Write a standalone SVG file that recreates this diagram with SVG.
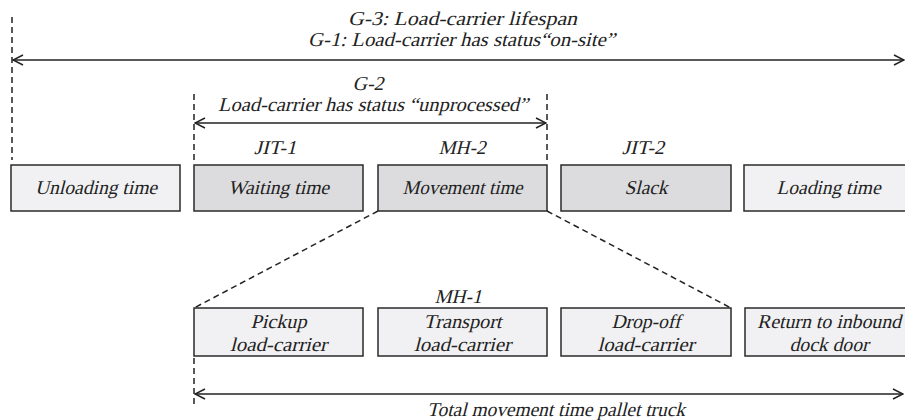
<svg xmlns="http://www.w3.org/2000/svg" width="905" height="420" viewBox="0 0 905 420">
  <defs>
    <!-- Serif labels are slanted with a skew so they read as italic -->
    <style>
      .t { font-family: 'Liberation Serif', serif; font-size: 19.6px; fill: #222; text-anchor: middle; }
      .box { stroke: #2a2a2a; stroke-width: 1.5; }
      .light { fill: #f1f1f3; }
      .gray { fill: #dcdcde; }
      .dash { stroke: #222; stroke-width: 1.5; stroke-dasharray: 6 4; fill: none; }
      .span { stroke: #222; stroke-width: 1.6; fill: none; marker-start: url(#head); marker-end: url(#head); }
    </style>
    <marker id="head" viewBox="0 0 12 12" refX="11" refY="6" markerWidth="12" markerHeight="12" markerUnits="userSpaceOnUse" orient="auto-start-reverse">
      <path d="M1,1 L11,6 L1,11" fill="none" stroke="#222" stroke-width="1.5"/>
    </marker>
  </defs>
  <rect width="905" height="420" fill="#ffffff"/>

  <!-- Span labels -->
  <g id="labels" class="t">
    <text transform="translate(462.5,25) skewX(-14)" textLength="229" lengthAdjust="spacingAndGlyphs">G-3: Load-carrier lifespan</text>
    <text transform="translate(461.5,46) skewX(-14)" textLength="307" lengthAdjust="spacingAndGlyphs">G-1: Load-carrier has status“on-site”</text>
    <text transform="translate(368,90) skewX(-14)" textLength="31" lengthAdjust="spacingAndGlyphs">G-2</text>
    <text transform="translate(373,111) skewX(-14)" textLength="310" lengthAdjust="spacingAndGlyphs">Load-carrier has status “unprocessed”</text>
    <text transform="translate(275,154) skewX(-14)" textLength="42" lengthAdjust="spacingAndGlyphs">JIT-1</text>
    <text transform="translate(462,154) skewX(-14)" textLength="47" lengthAdjust="spacingAndGlyphs">MH-2</text>
    <text transform="translate(643,154) skewX(-14)" textLength="42" lengthAdjust="spacingAndGlyphs">JIT-2</text>
    <text transform="translate(458,303) skewX(-14)" textLength="47" lengthAdjust="spacingAndGlyphs">MH-1</text>
    <text transform="translate(556,416) skewX(-14)" textLength="258" lengthAdjust="spacingAndGlyphs">Total movement time pallet truck</text>
  </g>

  <!-- Top row: load-carrier stages -->
  <g id="unloading" class="t">
    <rect class="box light" x="11" y="165" width="169" height="46"/>
    <text transform="translate(96,194) skewX(-14)" textLength="122" lengthAdjust="spacingAndGlyphs">Unloading time</text>
  </g>
  <g id="waiting" class="t">
    <rect class="box gray" x="194" y="165" width="169" height="46"/>
    <text transform="translate(278.5,194) skewX(-14)" textLength="101" lengthAdjust="spacingAndGlyphs">Waiting time</text>
  </g>
  <g id="movement" class="t">
    <rect class="box gray" x="378" y="165" width="169" height="46"/>
    <text transform="translate(462.5,194) skewX(-14)" textLength="120" lengthAdjust="spacingAndGlyphs">Movement time</text>
  </g>
  <g id="slack" class="t">
    <rect class="box gray" x="561" y="165" width="170" height="46"/>
    <text transform="translate(646,194) skewX(-14)" textLength="43" lengthAdjust="spacingAndGlyphs">Slack</text>
  </g>
  <g id="loading" class="t">
    <rect class="box light" x="744" y="165" width="169" height="46"/>
    <text transform="translate(828.5,194) skewX(-14)" textLength="104" lengthAdjust="spacingAndGlyphs">Loading time</text>
  </g>

  <!-- Bottom row: pallet truck movement steps -->
  <g id="pickup" class="t">
    <rect class="box light" x="194" y="308" width="169" height="48"/>
    <text transform="translate(278.5,328) skewX(-14)" textLength="56" lengthAdjust="spacingAndGlyphs">Pickup</text>
    <text transform="translate(278.5,351) skewX(-14)" textLength="97" lengthAdjust="spacingAndGlyphs">load-carrier</text>
  </g>
  <g id="transport" class="t">
    <rect class="box light" x="378" y="308" width="169" height="48"/>
    <text transform="translate(462.5,328) skewX(-14)" textLength="78" lengthAdjust="spacingAndGlyphs">Transport</text>
    <text transform="translate(462.5,351) skewX(-14)" textLength="97" lengthAdjust="spacingAndGlyphs">load-carrier</text>
  </g>
  <g id="dropoff" class="t">
    <rect class="box light" x="561" y="308" width="170" height="48"/>
    <text transform="translate(646,328) skewX(-14)" textLength="69" lengthAdjust="spacingAndGlyphs">Drop-off</text>
    <text transform="translate(646,351) skewX(-14)" textLength="97" lengthAdjust="spacingAndGlyphs">load-carrier</text>
  </g>
  <g id="return" class="t">
    <rect class="box light" x="745" y="308" width="169" height="48"/>
    <text transform="translate(829,328) skewX(-14)" textLength="144" lengthAdjust="spacingAndGlyphs">Return to inbound</text>
    <text transform="translate(829,351) skewX(-14)" textLength="79" lengthAdjust="spacingAndGlyphs">dock door</text>
  </g>

  <!-- Connectors: extent markers, spans and zoom lines -->
  <g id="connectors">
    <line class="dash" x1="12" y1="17" x2="12" y2="160"/>
    <line class="dash" x1="194" y1="94" x2="194" y2="163"/>
    <line class="dash" x1="547" y1="94" x2="547" y2="163"/>
    <line class="dash" x1="194" y1="358" x2="194" y2="408"/>
    <line class="dash" x1="378" y1="211" x2="194" y2="308"/>
    <line class="dash" x1="547" y1="211" x2="731" y2="308"/>
    <line class="span" x1="13" y1="60" x2="904" y2="60"/>
    <line class="span" x1="195" y1="123" x2="546" y2="123"/>
    <line class="span" x1="195" y1="394" x2="903" y2="394"/>
  </g>
</svg>
